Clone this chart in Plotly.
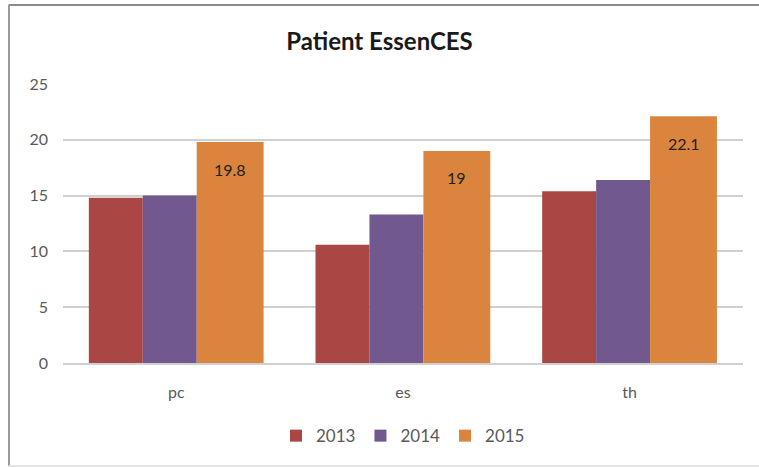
"""Patient EssenCES — grouped bars per year."""

import plotly.graph_objects as go

CATEGORIES = ["pc", "es", "th"]
YEARS = ["2013", "2014", "2015"]
VALUES_2013 = [14.8, 10.6, 15.4]
VALUES_2014 = [15.0, 13.3, 16.4]
VALUES_2015 = [19.8, 19.0, 22.1]

COLORS = ["#AA4643", "#71588F", "#DB843D"]
FONT = "Lato, 'Open Sans', sans-serif"

series = [VALUES_2013, VALUES_2014, VALUES_2015]
# (offset, width) in category units; the 2015 bar is drawn wider
geometry = [(-0.386, 0.238), (-0.148, 0.238), (0.09, 0.295)]
CAT_PX = 680 / 3  # pixels per category

fig = go.Figure()
for year, vals, color, (off, w) in zip(YEARS, series, COLORS, geometry):
    fig.add_trace(go.Bar(
        x=CATEGORIES, y=vals, name=year,
        marker=dict(color=color, line=dict(width=0)),
        offset=off, width=w,
        hoverinfo="x+y+name",
    ))

# data labels on the 2015 bars, a little below the bar top
off15, w15 = geometry[2]
for cat, v in zip(CATEGORIES, VALUES_2015):
    fig.add_annotation(
        x=cat, y=v, text=f"{v:g}", showarrow=False,
        xshift=(off15 + w15 / 2) * CAT_PX, yshift=-27,
        font=dict(family=FONT, size=16, color="#222222"),
    )

# chart frame: dark top edge, grey left edge, faint bottom edge
frame = [
    dict(x0=-0.08, x1=1.03, y0=1.283, y1=1.283, line=dict(color="#8a8a8a", width=2)),
    dict(x0=-0.0794, x1=-0.0794, y0=-0.37, y1=1.283, line=dict(color="#9a9a9a", width=2)),
    dict(x0=-0.08, x1=1.03, y0=-0.369, y1=-0.369, line=dict(color="#e4e4e4", width=2)),
]
shapes = [dict(type="line", xref="paper", yref="paper", layer="below", **f) for f in frame]

fig.update_layout(
    width=759, height=467,
    margin=dict(l=63, r=16, t=84, b=104),
    paper_bgcolor="white", plot_bgcolor="white",
    barmode="overlay",
    title=dict(text="<b>Patient EssenCES</b>", x=0.5, xanchor="center",
               y=0.91, yanchor="middle",
               font=dict(family=FONT, size=24, color="#1a1a1a")),
    font=dict(family=FONT, size=16, color="#595959"),
    xaxis=dict(showgrid=False, showline=True, linecolor="#d0d0d0", linewidth=1.5,
               ticks="", tickfont=dict(size=16, color="#595959"), ticklabelstandoff=14),
    yaxis=dict(range=[0, 25], dtick=5, showgrid=True, gridcolor="#d0d0d0",
               gridwidth=1.5, zeroline=False, showline=False,
               tickfont=dict(size=16, color="#595959"), ticklabelstandoff=14),
    legend=dict(orientation="h", x=0.5, xanchor="center", y=-0.262, yanchor="middle",
                font=dict(size=17, color="#595959"), itemwidth=30,
                traceorder="normal"),
    showlegend=True,
    shapes=shapes,
)

fig.write_html("out.html", config={"displayModeBar": False},
               post_script="document.body.style.margin='0';")
